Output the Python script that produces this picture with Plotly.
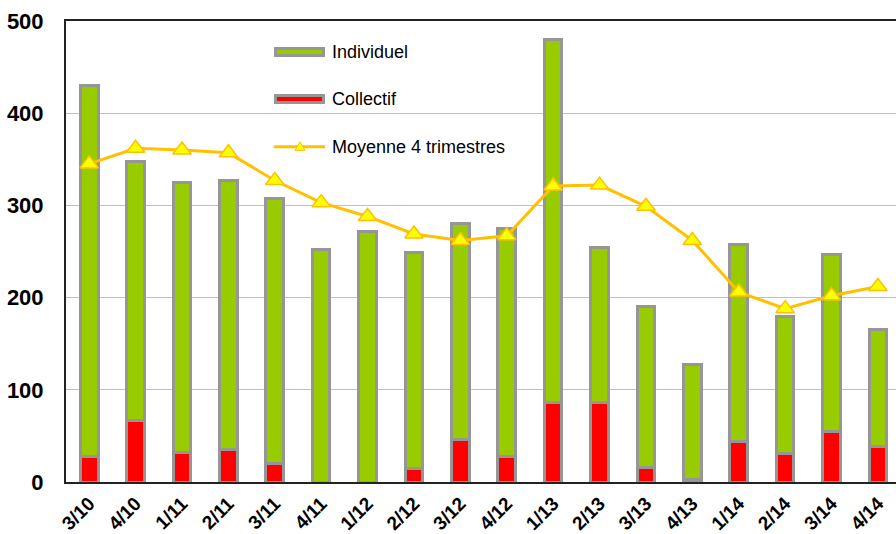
import plotly.graph_objects as go

quarters = ["3/10", "4/10", "1/11", "2/11", "3/11", "4/11", "1/12", "2/12", "3/12",
            "4/12", "1/13", "2/13", "3/13", "4/13", "1/14", "2/14", "3/14", "4/14"]
collectif = [28, 67, 32, 35, 20, 0, 0, 15, 46, 28, 86, 86, 16, 3, 44, 31, 55, 39]
total = [430, 348, 325, 327, 307, 252, 272, 249, 280, 275, 480, 254, 190, 127, 258, 180, 247, 165]
individuel = [t - c for t, c in zip(total, collectif)]
moyenne = [345, 362, 360, 357, 327, 303, 288, 269, 262, 267, 321, 322, 299, 262, 206, 188, 202, 212]
y_ticks = [0, 100, 200, 300, 400, 500]

W, H = 896, 534
L, R, T, B = 66, 0, 21, 51.5
FONT = "Arial, Liberation Sans, sans-serif"
GREEN = "#99CC00"
RED = "#FF0000"
GRAY = "#969696"
LINE = "#FFC000"
YEL = "#FFFF00"

fig = go.Figure()
fig.add_trace(go.Bar(x=quarters, y=collectif, name="Collectif", width=0.38,
                     marker=dict(color=RED, line=dict(color=GRAY, width=3))))
fig.add_trace(go.Bar(x=quarters, y=individuel, name="Individuel", width=0.38,
                     marker=dict(color=GREEN, line=dict(color=GRAY, width=3))))
fig.add_trace(go.Scatter(x=quarters, y=moyenne, name="Moyenne 4 trimestres", mode="lines+markers",
                         line=dict(color=LINE, width=3),
                         marker=dict(symbol="triangle-up", size=16, color=YEL,
                                     line=dict(color=LINE, width=1.5))))

pw = W - L - R
ph = H - T - B


def px(x):
    return (x - L) / pw


def py(y):
    return (H - B - y) / ph


shapes = []
annotations = []
# custom legend
leg = [("Individuel", GREEN, 52), ("Collectif", RED, 99)]
for label, col, yc in leg:
    shapes.append(dict(type="rect", xref="paper", yref="paper",
                       x0=px(275.5), x1=px(323.5), y0=py(yc - 3.5), y1=py(yc + 3.5),
                       fillcolor=col, line=dict(color=GRAY, width=3)))
    annotations.append(dict(text=label, xref="paper", yref="paper", x=px(330), y=py(yc),
                            xanchor="left", yanchor="middle", showarrow=False,
                            font=dict(family=FONT, size=18, color="#000")))
yc = 147
shapes.append(dict(type="line", xref="paper", yref="paper", x0=px(274), x1=px(325),
                   y0=py(yc), y1=py(yc), line=dict(color=LINE, width=3)))
shapes.append(dict(type="path", xref="paper", yref="paper",
                   path=f"M {px(295)} {py(yc+3.5)} L {px(305)} {py(yc+3.5)} L {px(300)} {py(yc-5)} Z",
                   fillcolor=YEL, line=dict(color=LINE, width=1)))
annotations.append(dict(text="Moyenne 4 trimestres", xref="paper", yref="paper", x=px(330), y=py(yc),
                        xanchor="left", yanchor="middle", showarrow=False,
                        font=dict(family=FONT, size=18, color="#000")))

fig.update_layout(
    width=W, height=H,
    margin=dict(l=L, r=R, t=T, b=B, pad=0, autoexpand=False),
    paper_bgcolor="white", plot_bgcolor="white",
    barmode="stack", bargap=0.6,
    showlegend=False,
    shapes=shapes, annotations=annotations,
    font=dict(family=FONT, color="#000"),
    xaxis=dict(type="category", range=[-0.5, 17.39], showgrid=False, automargin=False,
               showline=True, linecolor="#222", linewidth=2, mirror=True,
               tickangle=-45, tickfont=dict(family=FONT, size=19, color="#000", weight="bold"),
               ticks="", ticklabelstandoff=1),
    yaxis=dict(range=[0, 500], tickvals=y_ticks, showgrid=True, gridcolor="#C0C0C0", gridwidth=1,
               automargin=False,
               zeroline=False, showline=True, linecolor="#222", linewidth=2, mirror=False,
               tickfont=dict(family=FONT, size=22, color="#000", weight="bold"),
               ticks="", ticklabelstandoff=16),
)

fig.write_html("out.html", config={"displayModeBar": False},
               post_script="document.body.style.margin='0';document.body.style.overflow='hidden';")
